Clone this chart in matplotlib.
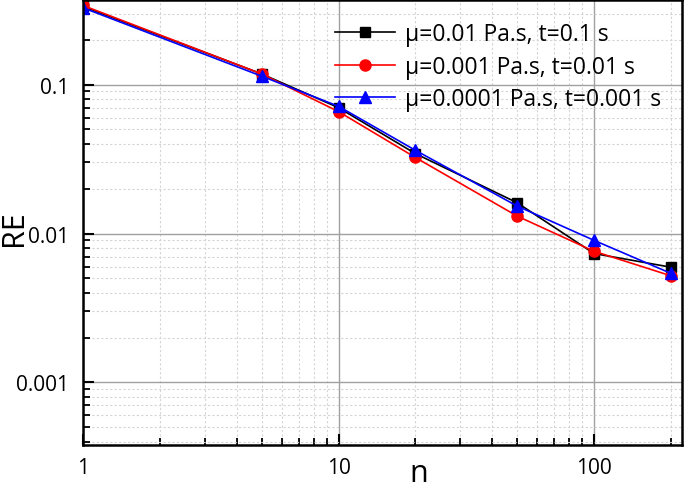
import matplotlib
matplotlib.use("Agg")
import matplotlib.pyplot as plt
from matplotlib.ticker import FixedLocator, FuncFormatter, LogLocator, NullFormatter

plt.rcParams['font.family'] = ['Open Sans', 'DejaVu Sans']

n = [1, 5, 10, 20, 50, 100, 200]
re_black = [0.335, 0.118, 0.070, 0.0344, 0.0161, 0.00734, 0.00594]
re_red = [0.340, 0.118, 0.0659, 0.0324, 0.0131, 0.0076, 0.0052]
re_blue = [0.328, 0.114, 0.0715, 0.0362, 0.0153, 0.0090, 0.0054]

labels = ["μ=0.01 Pa.s, t=0.1 s", "μ=0.001 Pa.s, t=0.01 s", "μ=0.0001 Pa.s, t=0.001 s"]
xticks = [1, 10, 100]
yticks = [0.001, 0.01, 0.1]

fig = plt.figure(figsize=(6.85, 4.89), dpi=100)
ax = fig.add_axes([83/685, 1-446/489, (682-83)/685, (446-1)/489])

ax.plot(n, re_black, color='black', marker='s', ms=7, lw=1.2, label=labels[0])
ax.plot(n, re_red, color='red', marker='o', ms=8, lw=1.2, label=labels[1])
ax.plot(n, re_blue, color='blue', marker='^', ms=8, lw=1.2, label=labels[2])

ax.set_xscale('log')
ax.set_yscale('log')
ax.set_xlim(1, 221)
ax.set_ylim(3.8e-4, 0.37)

ax.xaxis.set_major_locator(FixedLocator(xticks))
ax.yaxis.set_major_locator(FixedLocator(yticks))
ax.xaxis.set_minor_locator(LogLocator(base=10, subs=range(2, 10), numticks=20))
ax.yaxis.set_minor_locator(LogLocator(base=10, subs=range(2, 10), numticks=20))
ax.xaxis.set_minor_formatter(NullFormatter())
ax.yaxis.set_minor_formatter(NullFormatter())
fmt = FuncFormatter(lambda v, p: ('%g' % v))
ax.xaxis.set_major_formatter(fmt)
ax.yaxis.set_major_formatter(fmt)

ax.grid(which='major', color='#a0a0a0', lw=1.0, ls='-')
ax.grid(which='minor', color='#d4d4d4', lw=0.8, ls=(0, (2, 2)))
ax.set_axisbelow(True)

ax.tick_params(which='major', direction='in', length=8, width=1.5, labelsize=15, top=False, right=False)
ax.tick_params(which='minor', direction='in', length=5, width=1.3, top=False, right=False)
ax.tick_params(axis='y', which='major', pad=10)
ax.tick_params(axis='x', which='major', pad=9)
for s in ax.spines.values():
    s.set_linewidth(1.8)

ax.set_xlabel('n', fontsize=22)
ax.set_ylabel('RE', fontsize=22)
ax.xaxis.label.set_va('baseline')
ax.yaxis.label.set_va('baseline')
ax.xaxis.set_label_coords(0.56, (446-482)/445)
ax.yaxis.set_label_coords((22-83)/599, 0.49)

leg = ax.legend(loc='upper left', frameon=False, fontsize=16.5, handlelength=2.6,
                borderpad=0, borderaxespad=0, labelspacing=0.38, handletextpad=0.45,
                bbox_to_anchor=((335-83)/599, (446-23)/445))

fig.savefig('out.png', dpi=100)
